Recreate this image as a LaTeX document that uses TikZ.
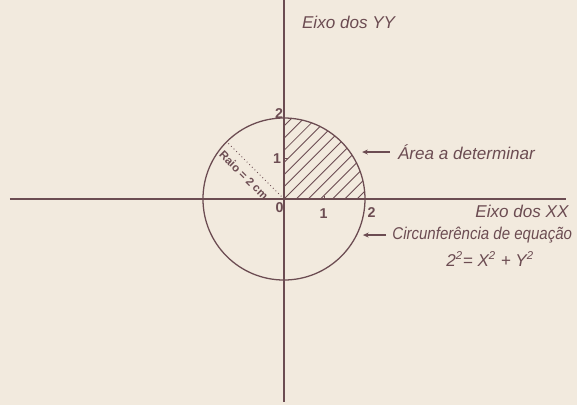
\documentclass[tikz,border=0pt]{standalone}
\usepackage{fontspec}
\newfontfamily\handfont{Liberation Sans}
\usepackage{xcolor}
\usetikzlibrary{arrows.meta,positioning,calc}
\definecolor{ink}{RGB}{108,76,82}
\definecolor{paper}{RGB}{242,234,222}

\begin{document}
\begin{tikzpicture}[
  axis/.style={draw=ink, line width=0.9pt},
  label/.style={font=\handfont\itshape\fontsize{12}{14}\selectfont, text=ink, anchor=west, inner sep=0pt},
  num/.style={font=\handfont\bfseries\fontsize{10}{12}\selectfont, text=ink, inner sep=0pt},
  hatch/.style={draw=ink, line width=0.6pt},
  raioline/.style={draw=ink, dotted, line width=0.6pt},
  arrow/.style={-{Stealth[length=4pt,width=3.5pt]}, draw=ink, line width=1pt}
]
  \fill[paper] (-7.012,-5.086) rectangle (7.235,4.914);
  \useasboundingbox (-7.012,-5.086) rectangle (7.235,4.914);

  \coordinate (O) at (0,0);
  \coordinate (R) at (135:2);

  \begin{scope}
    \clip (O) -- (2,0) arc (0:90:2) -- cycle;
    \foreach \c in {-2.1,-1.8,...,2.1}
      \draw[hatch] (\c,0) -- ++(2.6,2.6);
  \end{scope}

  \draw[axis] (-6.77,0) -- (6.96,0);
  \draw[axis] (0,4.914) -- (0,-5.01);
  \draw[axis] (O) circle (2);
  \draw[axis] (1,0) -- (1,0.08);
  \draw[axis] (0,1) -- (0.1,1);
  \draw[raioline] (O) -- (R);

  \node[num] (n2y) at (-0.12,2.12)  {2};
  \node[num] (n1y) at (-0.17,1.01)  {1};
  \node[num] (n0)  at (-0.11,-0.22) {0};
  \node[num] (n1x) at (0.98,-0.35)  {1};
  \node[num] (n2x) at (2.16,-0.33)  {2};
  \node[num, font=\handfont\bfseries\fontsize{8}{10}\selectfont, rotate=-45] (raio) at (-0.99,0.59) {Raio = 2 cm};

  \node[label] (eixoy) at (0.44,4.35)  {Eixo dos YY};
  \node[label] (eixox) at (4.72,-0.30) {Eixo dos XX};
  \node[label] (area)  at (2.81,1.16)  {Área a determinar};
  \node[label, font=\handfont\itshape\fontsize{12}{14}\selectfont\addfontfeature{FakeStretch=0.88}] (circ) at (2.67,-0.89) {Circunferência de equação};
  \node[label, anchor=center] (eq) at (5.09,-1.48) {2\textsuperscript{2}= X\textsuperscript{2} + Y\textsuperscript{2}};

  \coordinate (areatip) at (1.93,1.16);
  \coordinate (circtip) at (1.95,-0.89);
  \draw[arrow, shorten <=2mm] (area.west) -- (areatip);
  \draw[arrow, shorten <=1.5mm] (circ.west) -- (circtip);
\end{tikzpicture}
\end{document}
